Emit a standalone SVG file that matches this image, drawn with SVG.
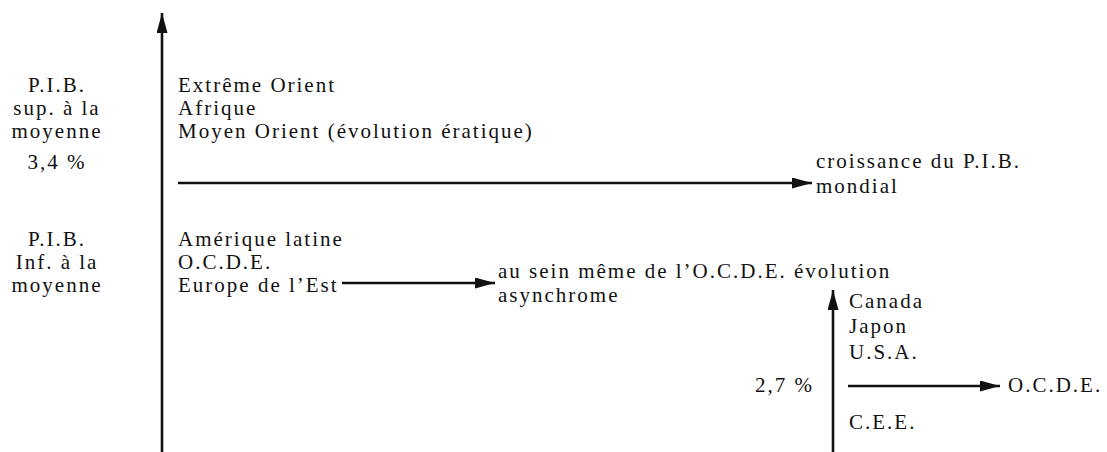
<svg xmlns="http://www.w3.org/2000/svg" width="1107" height="452" viewBox="0 0 1107 452">
<style>
text{font-family:"Liberation Serif","DejaVu Serif",serif;font-size:21px;letter-spacing:2px;fill:#111}
.c{text-anchor:middle}
.e{text-anchor:end}
.ln{stroke:#111;stroke-width:2.6;fill:none}
</style>
<defs>
<marker id="ah" viewBox="0 0 20 11" refX="20" refY="5.5" markerWidth="20" markerHeight="11" markerUnits="userSpaceOnUse" orient="auto">
<path d="M0,0 L20,5.5 L0,11 Z" fill="#111"/>
</marker>
</defs>
<g id="connectors">
<line class="ln" x1="162" y1="452" x2="162" y2="13" marker-end="url(#ah)"/>
<line class="ln" x1="178" y1="183" x2="812" y2="183" marker-end="url(#ah)"/>
<line class="ln" x1="342" y1="283" x2="495" y2="283" marker-end="url(#ah)"/>
<line class="ln" x1="833" y1="452" x2="833" y2="290" marker-end="url(#ah)"/>
<line class="ln" x1="848" y1="386" x2="1000" y2="386" marker-end="url(#ah)"/>
</g>
<g id="label-sup">
<text class="c" x="57" y="92">P.I.B.</text>
<text class="c" x="57" y="115">sup. à la</text>
<text class="c" x="57" y="138">moyenne</text>
</g>
<g id="label-34">
<text class="c" x="57" y="169">3,4 %</text>
</g>
<g id="label-inf">
<text class="c" x="57" y="246">P.I.B.</text>
<text class="c" x="57" y="269">Inf. à la</text>
<text class="c" x="57" y="292">moyenne</text>
</g>
<g id="group-high">
<text x="178" y="92">Extrême Orient</text>
<text x="178" y="115">Afrique</text>
<text x="178" y="138">Moyen Orient (évolution ératique)</text>
</g>
<g id="group-low">
<text x="178" y="246">Amérique latine</text>
<text x="178" y="269">O.C.D.E.</text>
<text x="178" y="292">Europe de l’Est</text>
</g>
<g id="croissance">
<text x="816" y="168">croissance du P.I.B.</text>
<text x="816" y="193">mondial</text>
</g>
<g id="asynchrome">
<text x="498" y="278">au sein même de l’O.C.D.E. évolution</text>
<text x="498" y="302">asynchrome</text>
</g>
<g id="ocde-members">
<text x="849" y="308">Canada</text>
<text x="849" y="333">Japon</text>
<text x="849" y="359">U.S.A.</text>
<text x="849" y="429">C.E.E.</text>
</g>
<g id="label-27">
<text class="e" x="814" y="392">2,7 %</text>
</g>
<g id="ocde">
<text x="1008" y="392">O.C.D.E.</text>
</g>
</svg>
